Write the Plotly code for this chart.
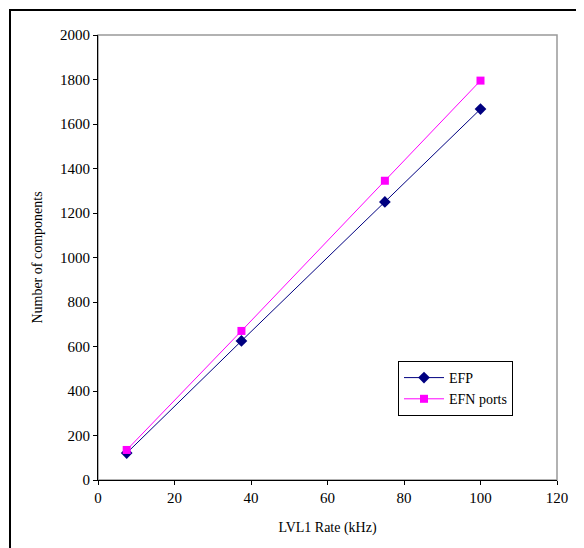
import plotly.graph_objects as go

rate_khz = [7.5, 37.5, 75, 100]
efp = [121, 625, 1250, 1667]
efn_ports = [135, 670, 1345, 1795]

# page has an 8px body margin; work in figure coordinates
OFF = 8
W, H = 584, 548
L, R, T, B = 98 - OFF, 557 - OFF, 35 - OFF, 480 - OFF
pw, ph = R - L, B - T

def px_x(p):
    return (p - OFF - L) / pw

def px_y(p):
    return (B - (p - OFF)) / ph

FAM = "'Times New Roman', 'Liberation Serif', serif"
font = dict(family=FAM, size=15, color="black")

fig = go.Figure()
fig.add_trace(go.Scatter(x=rate_khz, y=efp, name="EFP", mode="lines+markers",
                         line=dict(color="#000080", width=1),
                         marker=dict(symbol="diamond", size=9, color="#000080")))
fig.add_trace(go.Scatter(x=rate_khz, y=efn_ports, name="EFN ports", mode="lines+markers",
                         line=dict(color="#FF00FF", width=1),
                         marker=dict(symbol="square", size=8, color="#FF00FF")))

fig.update_layout(
    width=W, height=H,
    margin=dict(l=L, r=W - R, t=T, b=H - B, pad=0),
    paper_bgcolor="white", plot_bgcolor="white",
    font=font,
    showlegend=True,
    legend=dict(x=px_x(398), y=px_y(361), xanchor="left", yanchor="top",
                bordercolor="black", borderwidth=1, bgcolor="white",
                font=dict(family=FAM, size=14, color="black"),
                tracegroupgap=0, itemwidth=40),
    xaxis=dict(range=[0, 120], dtick=20, showgrid=False, zeroline=False,
               showline=True, linecolor="black", linewidth=1,
               ticks="outside", ticklen=4, tickcolor="black",
               tickfont=dict(family=FAM, size=15, color="black"),
               title=dict(text="LVL1 Rate (kHz)", font=dict(family=FAM, size=14, color="black"), standoff=17)),
    yaxis=dict(range=[0, 2000], dtick=200, showgrid=False, zeroline=False,
               showline=True, linecolor="black", linewidth=1,
               ticks="outside", ticklen=4, tickcolor="black",
               tickfont=dict(family=FAM, size=15, color="black"),
               title=dict(text="Number of components", font=dict(family=FAM, size=14, color="black"), standoff=14)),
    shapes=[
        dict(type="rect", xref="paper", yref="paper", x0=0, y0=0, x1=1, y1=1,
             line=dict(color="#999999", width=1.5), layer="below"),
        dict(type="rect", xref="paper", yref="paper",
             x0=px_x(10), y0=px_y(640), x1=px_x(640), y1=px_y(10),
             line=dict(color="black", width=2), layer="below"),
    ],
)

fig.write_html("out.html")
